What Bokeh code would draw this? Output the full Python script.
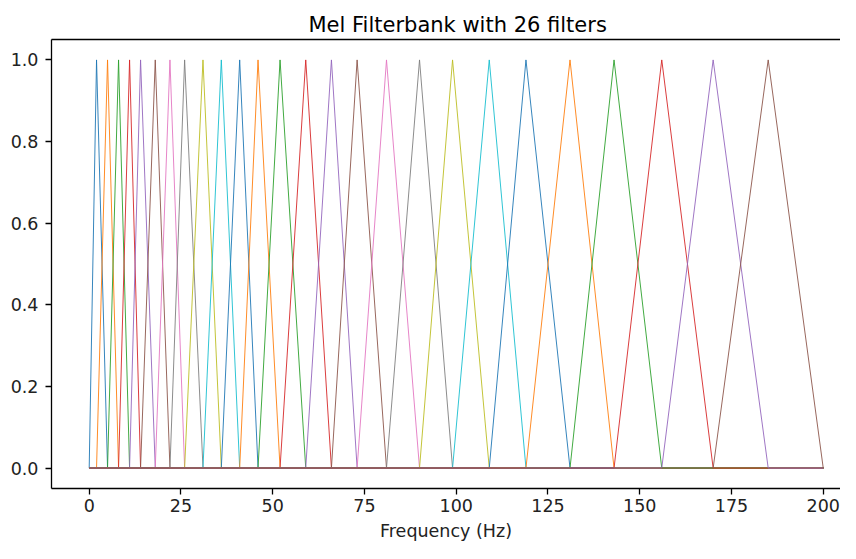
from bokeh.plotting import figure
from bokeh.models import Range1d, LinearAxis, FixedTicker, Title, NumeralTickFormatter
from bokeh.embed import file_html
from bokeh.resources import INLINE

# Filter bin edges (start/peak/end of consecutive triangular filters)
bin_edges = [0, 2, 5, 8, 11, 14, 18, 22, 26, 31, 36, 41, 46, 52, 59, 66, 73, 81,
             90, 99, 109, 119, 131, 143, 156, 170, 185, 200]
n_filters = 26
n_bins_last = 200
x_ticks = [0, 25, 50, 75, 100, 125, 150, 175, 200]
y_ticks = [0.0, 0.2, 0.4, 0.6, 0.8, 1.0]
palette = ['#1f77b4', '#ff7f0e', '#2ca02c', '#d62728', '#9467bd',
           '#8c564b', '#e377c2', '#7f7f7f', '#bcbd22', '#17becf']

xs, ys, colors = [], [], []
for j in range(n_filters):
    s, pk, e = bin_edges[j], bin_edges[j + 1], bin_edges[j + 2]
    xs.append([0, s, pk, e, n_bins_last])
    ys.append([0, 0, 1, 0, 0])
    colors.append(palette[j % 10])

FONT = "DejaVu Sans"
p = figure(width=840, height=543, output_backend="svg", toolbar_location=None,
           x_range=Range1d(-10.27, 204.7), y_range=Range1d(-0.05, 1.05),
           min_border_left=51, min_border_right=0, min_border_top=39, min_border_bottom=51,
           x_axis_location=None, y_axis_location=None)
p.title = Title(text="Mel Filterbank with 26 filters", align="left",
                text_font=FONT, text_font_size="21px", text_font_style="normal",
                text_color="black", offset=257, standoff=5)
p.outline_line_color = None
p.grid.visible = False
p.background_fill_color = "white"
p.border_fill_color = "white"

p.multi_line(xs, ys, line_color=colors, line_width=0.9)

def style(ax, standoff):
    ax.axis_line_color = "black"
    ax.axis_line_width = 1.3
    ax.major_tick_out = 6
    ax.major_tick_in = 0
    ax.major_tick_line_width = 1.3
    ax.minor_tick_line_color = None
    ax.major_label_text_font = FONT
    ax.major_label_text_font_size = "17.5px"
    ax.major_label_text_color = "#222222"
    ax.major_label_standoff = standoff

xa = LinearAxis(ticker=FixedTicker(ticks=x_ticks), axis_label="Frequency (Hz)")
style(xa, 4)
xa.axis_label_text_font = FONT
xa.axis_label_text_font_size = "17.5px"
xa.axis_label_text_font_style = "normal"
xa.axis_label_text_color = "#222222"
xa.axis_label_standoff = 6
p.add_layout(xa, "below")

ya = LinearAxis(ticker=FixedTicker(ticks=y_ticks))
style(ya, 7)
ya.formatter = NumeralTickFormatter(format="0.0")
p.add_layout(ya, "left")

top = LinearAxis(ticker=FixedTicker(ticks=[]))
top.axis_line_color = "black"
top.axis_line_width = 1.3
top.major_tick_line_color = None
top.minor_tick_line_color = None
top.major_label_text_font_size = "0px"
p.add_layout(top, "above")

open("out.html", "w").write(file_html(p, INLINE))
